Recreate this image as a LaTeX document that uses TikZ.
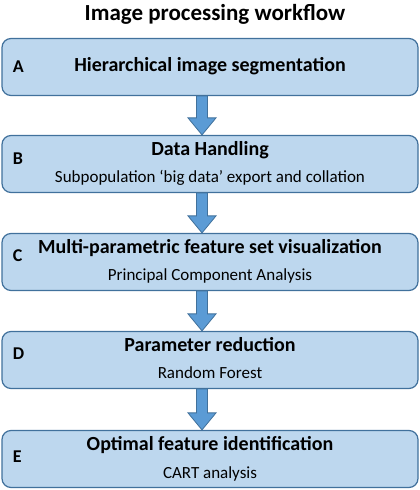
\documentclass[tikz,border=0pt]{standalone}
\usepackage{fontspec}
\setmainfont{Carlito}
\usetikzlibrary{positioning, calc}

\definecolor{boxfill}{HTML}{BDD7EE}
\definecolor{boxline}{HTML}{41719C}
\definecolor{arrowfill}{HTML}{5B9BD5}

\newcommand{\stagehead}[1]{{\fontsize{20}{24}\selectfont\bfseries\strut #1}}
\newcommand{\stagesub}[1]{{\fontsize{17}{20}\selectfont\strut #1}}

\begin{document}
\begin{tikzpicture}[
  x=1pt, y=1pt,
  stagebox/.style={draw=boxline, fill=boxfill, line width=1.2pt,
                   rounded corners=9pt, minimum width=416pt,
                   minimum height=57pt, align=center, inner sep=0pt},
  letterlab/.style={font=\fontsize{18}{20}\selectfont\bfseries, anchor=west},
  blockarrow/.style={draw=boxline, fill=arrowfill, line width=0.8pt}
]
\useasboundingbox (0,0) rectangle (420,490);

\node[font=\fontsize{23}{27}\selectfont\bfseries] (title) at (215,476)
  {Image processing workflow};

\node[stagebox] (boxA) at (210,423) {\stagehead{Hierarchical image segmentation}};
\node[stagebox] (boxB) at (210,326)
  {\stagehead{Data Handling}\\[5pt]\stagesub{Subpopulation ‘big data’ export and collation}};
\node[stagebox] (boxC) at (210,228)
  {\stagehead{Multi-parametric feature set visualization}\\[5pt]\stagesub{Principal Component Analysis}};
\node[stagebox] (boxD) at (210,130)
  {\stagehead{Parameter reduction}\\[5pt]\stagesub{Random Forest}};
\node[stagebox] (boxE) at (210,31)
  {\stagehead{Optimal feature identification}\\[5pt]\stagesub{CART analysis}};

% panel letters
\foreach \b/\l/\dy in {boxA/A/0, boxB/B/5, boxC/C/6, boxD/D/6, boxE/E/2}{
  \node[letterlab] (lab\l) at ($(\b.west)+(8,\dy)$) {\l};
}

% block arrows between stages
\foreach \a/\b in {boxA/boxB, boxB/boxC, boxC/boxD, boxD/boxE}{
  \draw[blockarrow] let \p1=(\a.south), \p2=(\b.north) in
    (\x1-13.5pt,\y1) -- (\x1-2.5pt,\y1) -- (\x1-2.5pt,\y2+17pt)
    -- (\x1+6pt,\y2+17pt) -- (\x1-8pt,\y2) -- (\x1-22pt,\y2+17pt)
    -- (\x1-13.5pt,\y2+17pt) -- cycle;
}

\end{tikzpicture}
\end{document}
